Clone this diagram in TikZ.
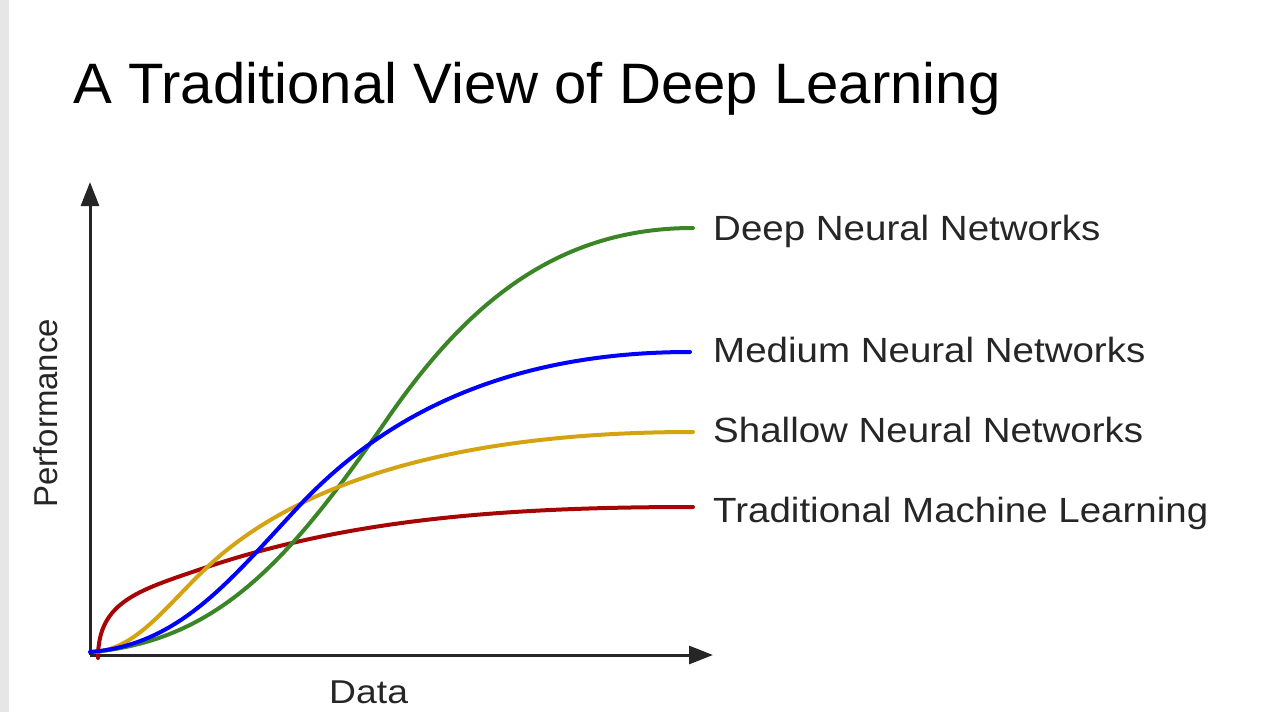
\documentclass[tikz,border=0pt]{standalone}
\usepackage{fontspec}
\setmainfont{Liberation Sans}
\usetikzlibrary{arrows.meta}
\definecolor{deepgreen}{RGB}{58,134,38}
\definecolor{medblue}{RGB}{0,0,255}
\definecolor{shallowgold}{RGB}{212,163,18}
\definecolor{tradred}{RGB}{165,5,5}
\definecolor{stripgray}{RGB}{230,230,230}
\begin{document}
\begin{tikzpicture}[x=1pt,y=-1pt,
  axis/.style={line width=3pt,black!85,-{Triangle[length=24pt,width=18pt]}},
  curve/.style={line width=4pt,line cap=round},
  lbl/.style={anchor=base west,inner sep=0pt,xscale=1.1,font=\fontsize{35}{38}\selectfont,text=black!85}]

  \useasboundingbox (0,0) rectangle (1283,712);
  \fill[stripgray] (0,0) rectangle (9,712);

  \node[anchor=base west,inner sep=0pt,xscale=1.02,font=\fontsize{57}{60}\selectfont] (title) at (73,103) {A Traditional View of Deep Learning};

  \coordinate (o) at (90,655);
  \coordinate (ytip) at (90,182);
  \coordinate (xtip) at (713,655);
  \draw[axis] (o) -- (ytip);
  \draw[axis] (o) -- (xtip);

  \node[anchor=base west,inner sep=0pt,xscale=1.13,font=\fontsize{33}{36}\selectfont,text=black!85] (data) at (329,703) {Data};
  \node[anchor=base west,inner sep=0pt,rotate=90,font=\fontsize{33}{36}\selectfont,text=black!85] (perf) at (57,508) {Performance};

  % curve ends
  \coordinate (trad end) at (693,507);
  \coordinate (deep end) at (693,228);
  \coordinate (shallow end) at (693,432);
  \coordinate (medium end) at (690,352);

  % curves
  \draw[curve,tradred] (98,658) .. controls (98,600) and (140,590) .. (210,566)
    .. controls (350,520) and (500,507) .. (trad end);
  \draw[curve,deepgreen] (92,652) .. controls (220,640) and (290,560) .. (390,415)
    .. controls (470,300) and (560,228) .. (deep end);
  \draw[curve,shallowgold] (95,652) .. controls (140,648) and (170,600) .. (215,560)
    .. controls (300,485) and (450,432) .. (shallow end);
  \draw[curve,medblue] (90,652) .. controls (180,645) and (230,580) .. (300,505)
    .. controls (380,420) and (500,352) .. (medium end);

  \node[lbl] (deep) at (713,240) {Deep Neural Networks};
  \node[lbl] (medium) at (713,362) {Medium Neural Networks};
  \node[lbl] (shallow) at (713,442) {Shallow Neural Networks};
  \node[lbl] (trad) at (713,522) {Traditional Machine Learning};
\end{tikzpicture}
\end{document}
